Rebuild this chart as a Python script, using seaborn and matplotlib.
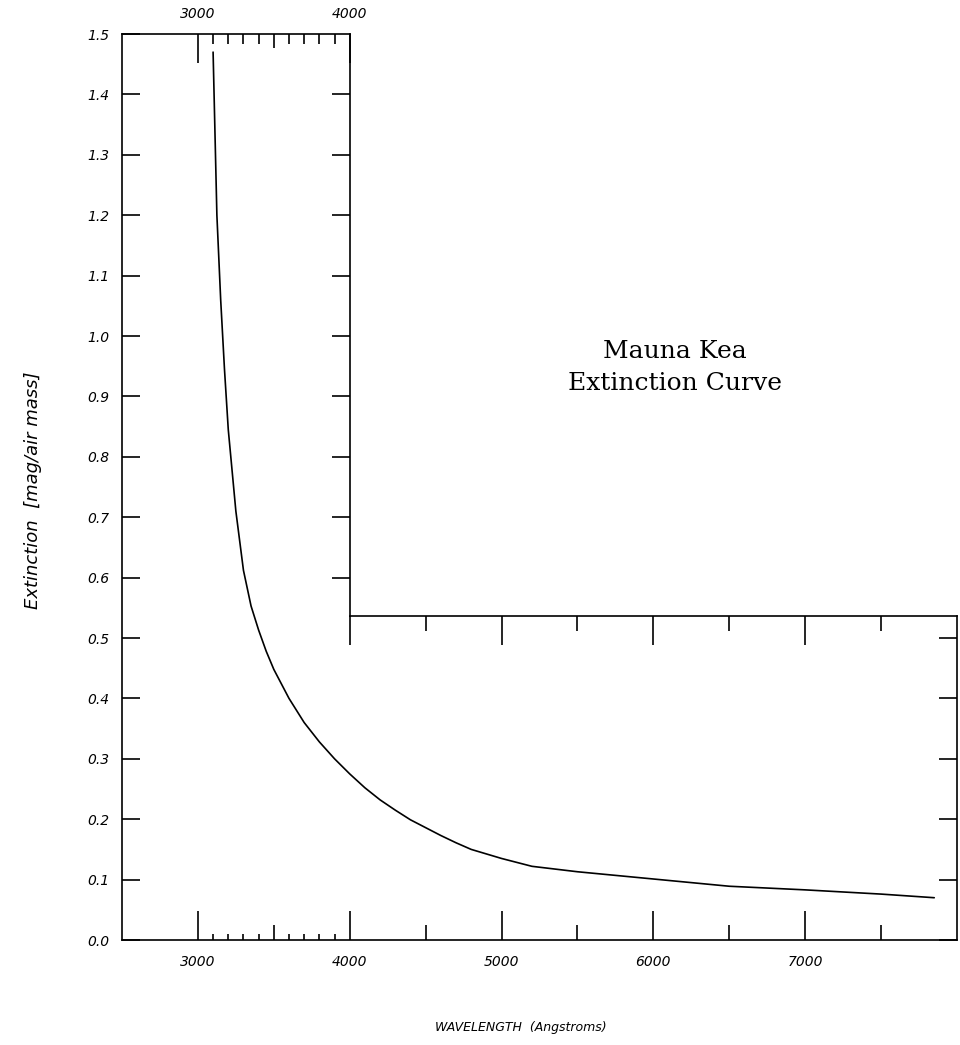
import numpy as np
import pandas as pd
import matplotlib
matplotlib.use("Agg")
import matplotlib.pyplot as plt
import seaborn as sns
from matplotlib.ticker import FixedLocator, NullFormatter

# ---------------- data ----------------
wavelength = [3100, 3125, 3150, 3175, 3200, 3250, 3300, 3350, 3400, 3450, 3500,
              3600, 3700, 3800, 3900, 4000, 4100, 4200, 4300, 4400, 4500, 4600,
              4700, 4800, 5000, 5200, 5500, 6000, 6500, 7000, 7500, 7850]
extinction = [1.47, 1.20, 1.06, 0.945, 0.845, 0.71, 0.612, 0.553, 0.513, 0.478, 0.448,
              0.400, 0.360, 0.328, 0.300, 0.275, 0.252, 0.232, 0.215, 0.199, 0.186, 0.173,
              0.161, 0.150, 0.135, 0.122, 0.113, 0.101, 0.089, 0.083, 0.076, 0.070]

x_range = [2500, 8000]
y_range = [0.0, 1.5]
x_major_ticks = [3000, 4000, 5000, 6000, 7000]
x_mid_ticks = [3500, 4500, 5500, 6500, 7500]
x_fine_ticks = [3100, 3200, 3300, 3400, 3600, 3700, 3800, 3900]
top_label_ticks = [3000, 4000]
y_ticks = [0.0, 0.1, 0.2, 0.3, 0.4, 0.5, 0.6, 0.7, 0.8, 0.9, 1.0, 1.1, 1.2, 1.3, 1.4, 1.5]
y_tick_labels = ["0.0", "0.1", "0.2", "0.3", "0.4", "0.5", "0.6", "0.7", "0.8", "0.9",
                 "1.0", "1.1", "1.2", "1.3", "1.4", "1.5"]
notch_wavelength = 4000
notch_extinction = 0.536
title_lines = ["Mauna Kea", "Extinction Curve"]
x_label = "WAVELENGTH  (Angstroms)"
y_label = "Extinction  [mag/air mass]"

# ---------------- style ----------------
sns.set_style("white", rc={"axes.edgecolor": "black", "xtick.color": "black",
                           "ytick.color": "black", "text.color": "black"})
plt.rcParams["font.family"] = ["DejaVu Sans"]

LW = 1.2
fig = plt.figure(figsize=(9.6, 10.45), dpi=100)
ax = fig.add_axes([122 / 960, 1 - 940 / 1045, 835 / 960, 906 / 1045])

df = pd.DataFrame({"wavelength": wavelength, "extinction": extinction})
sns.lineplot(data=df, x="wavelength", y="extinction", ax=ax, color="black",
             linewidth=LW, sort=False)
ax.set_xlim(*x_range)
ax.set_ylim(*y_range)
ax.set_xlabel("")
ax.set_ylabel("")

for s in ax.spines.values():
    s.set_linewidth(LW)
    s.set_color("black")
ax.spines["top"].set_bounds(x_range[0], notch_wavelength)
ax.spines["right"].set_bounds(y_range[0], notch_extinction)

tick_font = dict(fontsize=10, fontstyle="italic")

# bottom ticks
ax.set_xticks(x_major_ticks)
ax.set_xticklabels([str(v) for v in x_major_ticks], **tick_font)
ax.xaxis.set_minor_locator(FixedLocator(x_mid_ticks))
ax.tick_params(axis="x", which="major", bottom=True, top=False, direction="in",
               length=21, width=LW, pad=11)
ax.tick_params(axis="x", which="minor", bottom=True, top=False, direction="in",
               length=11, width=LW)
# left ticks
ax.set_yticks(y_ticks)
ax.set_yticklabels(y_tick_labels, **tick_font)
ax.tick_params(axis="y", which="major", left=True, right=False, direction="in",
               length=13, width=LW, pad=9)


def tick_row(side, locs, length, labels=None, pad=4):
    if side in ("top", "bottom"):
        sec = ax.secondary_xaxis(side)
        sec.set_xticks(locs)
        axis = sec.xaxis
    else:
        sec = ax.secondary_yaxis(side)
        sec.set_yticks(locs)
        axis = sec.yaxis
    for s in sec.spines.values():
        s.set_visible(False)
    if labels is None:
        axis.set_major_formatter(NullFormatter())
    else:
        if side in ("top", "bottom"):
            sec.set_xticklabels(labels, **tick_font)
        else:
            sec.set_yticklabels(labels, **tick_font)
    sec.tick_params(direction="in", length=length, width=LW, pad=pad)
    return sec


# fine 100 A ticks on bottom
tick_row("bottom", x_fine_ticks, 4)
# top axis (only over the left part)
tick_row("top", top_label_ticks, 21, labels=[str(v) for v in top_label_ticks], pad=9)
tick_row("top", [t for t in x_mid_ticks if t < notch_wavelength], 10)
tick_row("top", x_fine_ticks, 7)
# right ticks on lower part
tick_row("right", [v for v in y_ticks if v <= notch_extinction], 13)

# inner notch frame
p0 = fig.transFigure.inverted().transform(
    ax.transData.transform((notch_wavelength, notch_extinction)))
p1 = fig.transFigure.inverted().transform(
    ax.transData.transform((x_range[1], y_range[1])))
ax2 = fig.add_axes([p0[0], p0[1], p1[0] - p0[0], p1[1] - p0[1]])
ax2.set_facecolor("none")
ax2.set_xlim(notch_wavelength, x_range[1])
ax2.set_ylim(notch_extinction, y_range[1])
ax2.spines["top"].set_visible(False)
ax2.spines["right"].set_visible(False)
for s in ("left", "bottom"):
    ax2.spines[s].set_linewidth(LW)
    ax2.spines[s].set_color("black")
ax2.set_xticks([t for t in x_major_ticks if t >= notch_wavelength])
ax2.xaxis.set_minor_locator(FixedLocator([t for t in x_mid_ticks if t > notch_wavelength]))
ax2.set_yticks([v for v in y_ticks if notch_extinction < v < y_range[1]])
ax2.xaxis.set_major_formatter(NullFormatter())
ax2.yaxis.set_major_formatter(NullFormatter())
ax2.tick_params(axis="x", which="major", bottom=True, direction="out", length=21, width=LW)
ax2.tick_params(axis="x", which="minor", bottom=True, direction="out", length=11, width=LW)
ax2.tick_params(axis="y", which="major", left=True, direction="out", length=13, width=LW)
ax2.grid(False)

# texts
fig.text(675 / 960, 1 - 352 / 1045, title_lines[0], ha="center", va="center",
         fontsize=18, family="DejaVu Serif")
fig.text(675 / 960, 1 - 383 / 1045, title_lines[1], ha="center", va="center",
         fontsize=18, family="DejaVu Serif")
fig.text(521 / 960, 1 - 1028 / 1045, x_label, ha="center", va="center",
         fontsize=9, fontstyle="italic")
fig.text(33 / 960, 1 - 490 / 1045, y_label, ha="center", va="center",
         rotation=90, fontsize=13, fontstyle="italic")

fig.savefig("out.png", dpi=100, facecolor="white")
